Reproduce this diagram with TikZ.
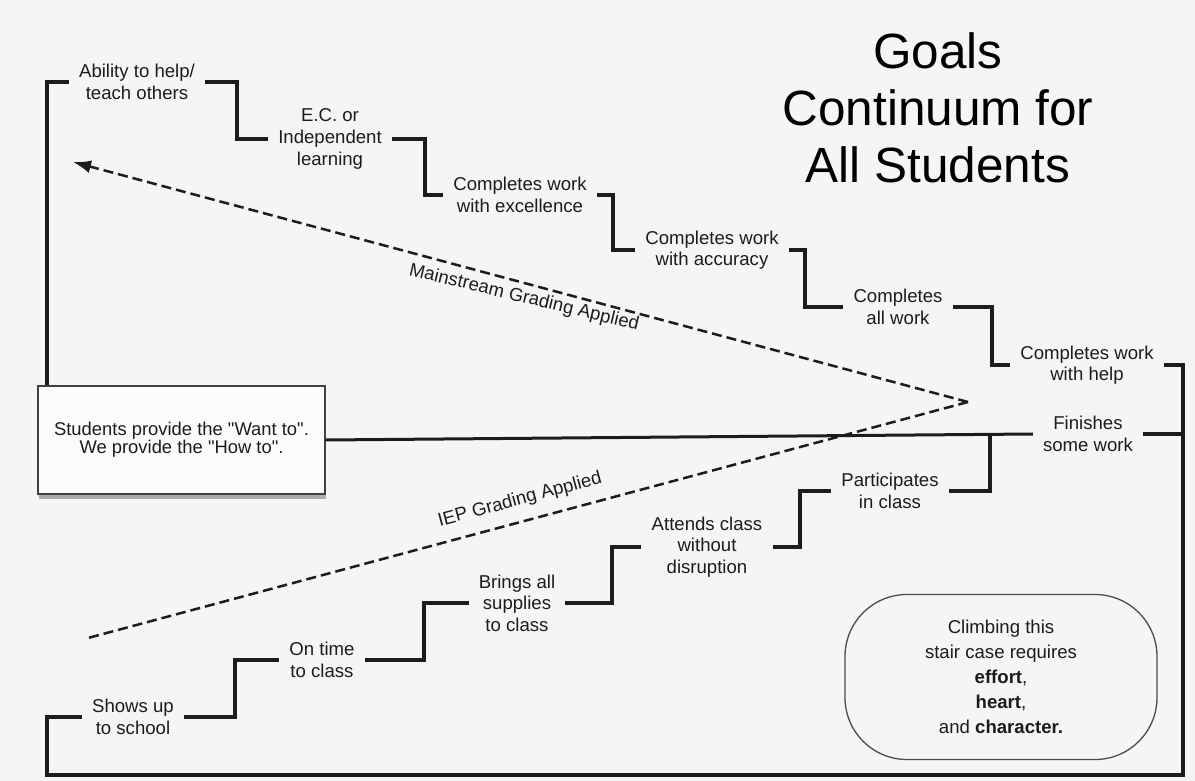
\documentclass[tikz,border=0pt]{standalone}
\usepackage{fontspec}
\setmainfont{Liberation Sans}[Ligatures=TeXOff]
\usetikzlibrary{arrows.meta,shadows,calc}
\definecolor{bg}{HTML}{F5F5F5}
\definecolor{ink}{HTML}{1C1C1C}
\definecolor{boxfill}{HTML}{FBFBFB}
\begin{document}
\begin{tikzpicture}[x=1pt,y=-1pt,
  stair/.style={line width=4pt, draw=ink},
  lbl/.style={font=\fontsize{18.6}{21.6}\selectfont, align=center, inner xsep=10pt, inner ysep=2pt, text=ink},
  dsh/.style={line width=2.5pt, dash pattern=on 10pt off 5pt, draw=ink},
  slant/.style={font=\fontsize{18.6}{21.6}\selectfont, text=ink, inner sep=1pt}]
\fill[bg] (0,0) rectangle (1195,781);
\useasboundingbox (0,0) rectangle (1195,781);

% title
\node[font=\fontsize{49.5}{57}\selectfont, align=center, text=black] (title) at (938,108) {Goals\\Continuum for\\All Students};

% corner coordinates
\coordinate (bl) at (47,775);
\coordinate (br) at (1183,775);
\coordinate (u1) at (237,0);
\coordinate (u2) at (425,0);
\coordinate (u3) at (613,0);
\coordinate (u4) at (805,0);
\coordinate (u5) at (992,0);
\coordinate (l1) at (235,0);
\coordinate (l2) at (424,0);
\coordinate (l3) at (612,0);
\coordinate (l4) at (800,0);
\coordinate (l5) at (990,0);

% upper staircase labels
\node[lbl] (abil) at (137,82) {Ability to help/\\teach others};
\node[lbl] (ec) at (330,139) {E.C. or\\Independent\\learning};
\node[lbl] (exc) at (520,195) {Completes work\\with excellence};
\node[lbl] (acc) at (712,250) {Completes work\\with accuracy};
\node[lbl] (allw) at (898,307) {Completes\\all work};
\node[lbl] (help) at (1087,365) {Completes work\\with help};

% lower staircase labels
\node[lbl] (shows) at (133,717) {Shows up\\to school};
\node[lbl] (ontime) at (322,660) {On time\\to class};
\node[lbl] (brings) at (517,603) {Brings all\\supplies\\to class};
\node[lbl] (attends) at (707,547) {Attends class\\without\\disruption};
\node[lbl] (part) at (890,491) {Participates\\in class};
\node[lbl] (fin) at (1088,434) {Finishes\\some work};

% central box
\node[draw=black!75, fill=boxfill, line width=1.3pt, minimum width=287pt, minimum height=108pt,
      font=\fontsize{18.4}{18}\selectfont, align=center, text=ink,
      drop shadow={shadow xshift=1pt, shadow yshift=-5pt, opacity=0.3, fill=black}]
      (box) at (181.5,440) {Students provide the "Want to".\\We provide the "How to".};

% requirement box
\node[draw=black!70, line width=1.3pt, rounded corners=62pt, minimum width=312pt, minimum height=165pt,
      align=center, text=ink, font=\fontsize{18.6}{25}\selectfont]
      (req) at (1001,677) {Climbing this\\stair case requires\\\textbf{effort},\\\textbf{heart},\\and \textbf{character.}};

% upper staircase
\draw[stair] (box.north -| bl) |- (abil.west);
\draw[stair] (abil.east) -| (u1 |- ec.west) -- (ec.west);
\draw[stair] (ec.east) -| (u2 |- exc.west) -- (exc.west);
\draw[stair] (exc.east) -| (u3 |- acc.west) -- (acc.west);
\draw[stair] (acc.east) -| (u4 |- allw.west) -- (allw.west);
\draw[stair] (allw.east) -| (u5 |- help.west) -- (help.west);

% outer frame
\draw[stair] (shows.west) -| (bl) -- (br) |- (help.east);
\draw[stair] (fin.east) -- (fin.east -| br);

% lower staircase
\draw[stair] (shows.east) -| (l1 |- ontime.west) -- (ontime.west);
\draw[stair] (ontime.east) -| (l2 |- brings.west) -- (brings.west);
\draw[stair] (brings.east) -| (l3 |- attends.west) -- (attends.west);
\draw[stair] (attends.east) -| (l4 |- part.west) -- (part.west);
\draw[stair] (part.east) -| (l5 |- fin.west);

% long line
\draw[line width=3pt, draw=ink] (box.east) -- (fin.west);

% dashed grading lines
\coordinate (apex) at (968,402);
\coordinate (mtip) at (73,162);
\coordinate (iend) at (88,638);
\draw[dsh, -{Latex[length=18pt,width=13pt]}] (apex) -- (mtip);
\draw[dsh] (apex) -- (iend);

\node[slant, rotate=-13.5] (mlab) at (524,298) {Mainstream Grading Applied};
\node[slant, rotate=15] (ilab) at (520,500) {IEP Grading Applied};
\end{tikzpicture}
\end{document}
